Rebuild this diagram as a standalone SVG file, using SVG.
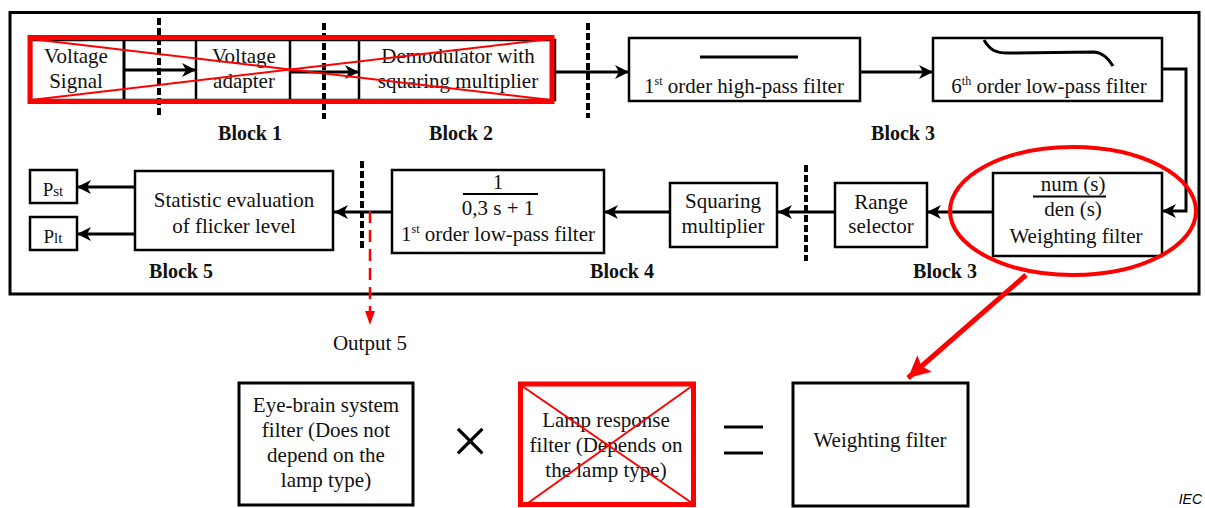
<svg xmlns="http://www.w3.org/2000/svg" width="1205" height="508" viewBox="0 0 1205 508">
<style>
.t{font-family:"Liberation Serif","Times New Roman",serif;font-size:21px;fill:#111;text-anchor:middle}
.sup{font-size:12px}
.b{font-family:"Liberation Serif","Times New Roman",serif;font-size:20px;font-weight:bold;fill:#111;text-anchor:middle}
.box{fill:#fff;stroke:#000;stroke-width:2.5}
.box3{fill:#fff;stroke:#000;stroke-width:3}
.ln{fill:none;stroke:#000;stroke-width:3}
.dash{fill:none;stroke:#000;stroke-width:4;stroke-dasharray:7 3}
.rd{fill:none;stroke:#f00}
</style>
<defs>
<marker id="ah" markerWidth="16" markerHeight="16" refX="14" refY="7" orient="auto" markerUnits="userSpaceOnUse"><path d="M0,0 L14,7 L0,14 L4,7 z" fill="#000"/></marker>
<marker id="rah" markerWidth="26" markerHeight="26" refX="22" refY="11" orient="auto" markerUnits="userSpaceOnUse"><path d="M0,0 L22,11 L0,22 L4,11 z" fill="#f00"/></marker>
<marker id="rah2" markerWidth="14" markerHeight="14" refX="14" refY="5" orient="auto" markerUnits="userSpaceOnUse"><path d="M0,0 L14,5 L0,10 z" fill="#f00"/></marker>
</defs>
<rect width="1205" height="508" fill="#fff"/>
<rect id="frame" x="10" y="12.5" width="1189" height="281.5" fill="none" stroke="#000" stroke-width="3"/>

<g id="chain-top">
<rect class="box" x="31" y="40" width="524" height="60"/>
<line class="ln" x1="124" y1="40" x2="124" y2="100"/>
<line class="box" x1="196" y1="40" x2="196" y2="100"/>
<line class="box" x1="290" y1="40" x2="290" y2="100"/>
<line class="box" x1="359" y1="40" x2="359" y2="100"/>
</g>
<g id="voltage-signal"><text class="t" x="76" y="63">Voltage</text><text class="t" x="76" y="88">Signal</text></g>
<g id="voltage-adapter"><text class="t" x="244" y="63">Voltage</text><text class="t" x="244" y="88">adapter</text></g>
<g id="demodulator"><text class="t" x="458" y="63">Demodulator with</text><text class="t" x="458" y="88">squaring multiplier</text></g>

<g id="highpass">
<rect class="box" x="629" y="38" width="231" height="63"/>
<line class="ln" x1="700" y1="57" x2="798" y2="57"/>
<text class="t" x="744" y="93">1<tspan class="sup" dy="-8">st</tspan><tspan dy="8"> order high-pass filter</tspan></text>
</g>
<g id="lowpass6">
<rect class="box" x="933" y="38" width="229" height="63"/>
<path class="ln" d="M984,40 C990,50 995,53 1008,53 L1094,52 C1103,53 1108,58 1113,66"/>
<text class="t" x="1049" y="93">6<tspan class="sup" dy="-8">th</tspan><tspan dy="8"> order low-pass filter</tspan></text>
</g>

<g id="weighting">
<rect class="box" x="993" y="173" width="169" height="83"/>
<text class="t" x="1073" y="191">num (s)</text>
<line x1="1033" y1="196.5" x2="1106" y2="196.5" stroke="#000" stroke-width="2"/>
<text class="t" x="1073" y="216">den (s)</text>
<text class="t" x="1076" y="243">Weighting filter</text>
</g>

<g id="range"><rect class="box" x="835" y="183" width="92" height="64"/><text class="t" x="881" y="209">Range</text><text class="t" x="881" y="233">selector</text></g>
<g id="squaring"><rect class="box" x="670" y="183" width="107" height="64"/><text class="t" x="723" y="208">Squaring</text><text class="t" x="723" y="233">multiplier</text></g>
<g id="lowpass1">
<rect class="box" x="392" y="170" width="212" height="83"/>
<text class="t" x="498" y="189">1</text>
<line x1="463" y1="194" x2="538" y2="194" stroke="#000" stroke-width="2"/>
<text class="t" x="498" y="215">0,3 s + 1</text>
<text class="t" x="498" y="241">1<tspan class="sup" dy="-8">st</tspan><tspan dy="8"> order low-pass filter</tspan></text>
</g>
<g id="statistic"><rect class="box" x="135" y="171" width="198" height="79"/><text class="t" x="234" y="207">Statistic evaluation</text><text class="t" x="234" y="233">of flicker level</text></g>
<g id="pst"><rect class="box" x="30" y="170" width="47" height="33"/><text class="t" x="53" y="196" style="font-size:19px">P<tspan style="font-size:15px">st</tspan></text></g>
<g id="plt"><rect class="box" x="30" y="217" width="47" height="33"/><text class="t" x="53" y="243" style="font-size:19px">P<tspan style="font-size:15px">lt</tspan></text></g>

<g id="block-labels">
<text class="b" x="250" y="140">Block 1</text>
<text class="b" x="461" y="140">Block 2</text>
<text class="b" x="903" y="140">Block 3</text>
<text class="b" x="181" y="278">Block 5</text>
<text class="b" x="622" y="278">Block 4</text>
<text class="b" x="945" y="278">Block 3</text>
</g>
<g id="output5"><text class="t" x="370" y="350">Output 5</text></g>

<g id="eye-brain"><rect class="box3" x="239" y="383" width="174" height="122"/>
<text class="t" x="326" y="412">Eye-brain system</text><text class="t" x="326" y="437">filter (Does not</text><text class="t" x="326" y="462">depend on the</text><text class="t" x="326" y="487">lamp type)</text></g>
<text id="times" x="470" y="463" style="font-family:'Liberation Serif','Times New Roman',serif;font-size:66px;text-anchor:middle;fill:#000">×</text>
<g id="lamp">
<text class="t" x="606" y="427">Lamp response</text><text class="t" x="606" y="452">filter (Depends on</text><text class="t" x="606" y="477">the lamp type)</text>
</g>
<g id="equals"><line x1="724" y1="427" x2="763" y2="427" stroke="#000" stroke-width="3"/><line x1="724" y1="453" x2="763" y2="453" stroke="#000" stroke-width="3"/></g>
<g id="weighting-result"><rect class="box3" x="793" y="383" width="175" height="123"/><text class="t" x="880" y="447">Weighting filter</text></g>
<text id="iec" x="1202" y="504" style="font-family:'Liberation Sans',Arial,sans-serif;font-size:14px;font-style:italic;text-anchor:end;fill:#000">IEC</text>

<g id="connectors">
<line class="ln" x1="124" y1="70" x2="196" y2="70" marker-end="url(#ah)"/>
<line class="ln" x1="290" y1="72" x2="359" y2="72" marker-end="url(#ah)"/>
<line class="ln" x1="555" y1="72" x2="629" y2="72" marker-end="url(#ah)"/>
<line class="ln" x1="860" y1="72" x2="933" y2="72" marker-end="url(#ah)"/>
<polyline class="ln" points="1162,69 1186,69 1186,211 1162,211" marker-end="url(#ah)"/>
<line class="ln" x1="993" y1="212" x2="927" y2="212" marker-end="url(#ah)"/>
<line class="ln" x1="835" y1="212" x2="778" y2="212" marker-end="url(#ah)"/>
<line class="ln" x1="670" y1="212" x2="604" y2="212" marker-end="url(#ah)"/>
<line class="ln" x1="392" y1="212" x2="334" y2="212" marker-end="url(#ah)"/>
<line class="ln" x1="135" y1="187" x2="77" y2="187" marker-end="url(#ah)"/>
<line class="ln" x1="135" y1="234" x2="77" y2="234" marker-end="url(#ah)"/>
<line x1="370" y1="211" x2="370" y2="325" stroke="#f00" stroke-width="2.5" stroke-dasharray="12 7" marker-end="url(#rah2)"/>
<line x1="1026" y1="275" x2="908" y2="378" stroke="#f00" stroke-width="5" marker-end="url(#rah)"/>
</g>

<g id="block-dividers">
<line class="dash" x1="159" y1="18" x2="159" y2="115"/>
<line class="dash" x1="324" y1="23" x2="324" y2="119"/>
<line class="dash" x1="588" y1="23" x2="588" y2="118"/>
<line class="dash" x1="806" y1="165" x2="806" y2="261"/>
<line class="dash" x1="362" y1="161" x2="362" y2="249"/>
</g>

<g id="crossed-top">
<rect class="rd" x="30" y="37.5" width="522" height="64" stroke-width="5"/>
<line class="rd" x1="31" y1="39" x2="551" y2="100" stroke-width="2"/>
<line class="rd" x1="31" y1="100" x2="551" y2="39" stroke-width="2"/>
</g>
<ellipse id="highlight" cx="1073" cy="211" rx="123" ry="64" fill="none" stroke="#f00" stroke-width="4"/>
<g id="crossed-lamp">
<rect class="rd" x="520.5" y="384" width="173" height="120.5" stroke-width="5"/>
<line class="rd" x1="522" y1="386" x2="692" y2="503" stroke-width="2"/>
<line class="rd" x1="528" y1="503" x2="692" y2="386" stroke-width="2"/>
</g>
</svg>
